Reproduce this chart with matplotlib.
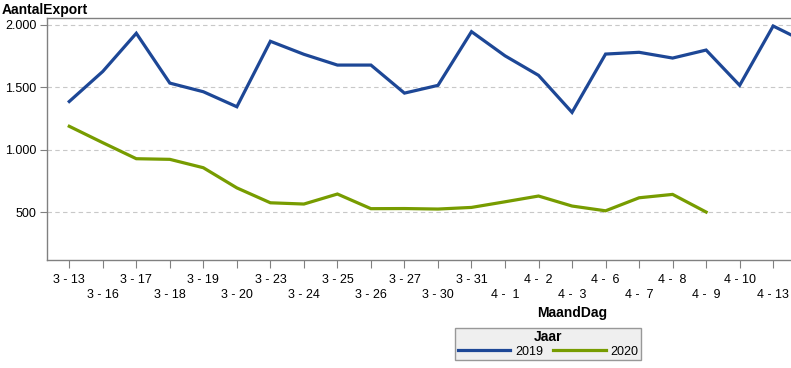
import numpy as np
import matplotlib.pyplot as plt
from matplotlib.lines import Line2D

plt.rcParams['font.family'] = ['Liberation Sans', 'DejaVu Sans']

# Daily export counts per month-day, two years
dagen = ["3 - 13", "3 - 16", "3 - 17", "3 - 18", "3 - 19", "3 - 20", "3 - 23",
         "3 - 24", "3 - 25", "3 - 26", "3 - 27", "3 - 30", "3 - 31", "4 -  1",
         "4 -  2", "4 -  3", "4 -  6", "4 -  7", "4 -  8", "4 -  9", "4 - 10",
         "4 - 13", "4 - 14"]
export_2019 = [1385, 1625, 1930, 1532, 1463, 1343, 1866, 1762, 1676, 1676, 1452,
               1514, 1943, 1750, 1594, 1298, 1764, 1778, 1732, 1796, 1514, 1988, 1855]
export_2020 = [1187, 1056, 928, 923, 856, 695, 576, 566, 646, 529, 530,
               526, 539, 584, 630, 550, 512, 616, 643, 502]

blauw = "#1d4796"
groen = "#779c00"
grijs = "#808080"

fig = plt.figure(figsize=(7.91, 3.68), dpi=100)
# axes run on past the right edge of the picture, like the original
ax = fig.add_axes([47.3 / 791, 108 / 368, 1050 / 791, 242 / 368])

x = np.arange(len(dagen))
ax.plot(x, export_2019, color=blauw, lw=2.3, solid_joinstyle="miter", zorder=3)
ax.plot(x[:len(export_2020)], export_2020, color=groen, lw=2.3, solid_joinstyle="miter", zorder=3)

ax.set_xlim(-0.655, -0.655 + 1050 / 33.52)
ax.set_ylim(119, 2052)

ax.set_yticks([500, 1000, 1500, 2000])
ax.set_yticklabels(["500", "1.000", "1.500", "2.000"], fontsize=9)
ax.grid(axis="y", color="#c8c8c8", ls=(0, (4, 3)), lw=0.8)
ax.set_axisbelow(True)

# last day lies past the picture edge, its label is not shown there
labels = [d if i % 2 == 0 else "\n" + d for i, d in enumerate(dagen)]
labels[-1] = ""
ax.set_xticks(x)
ax.set_xticklabels(labels, fontsize=9, linespacing=1.35)
ax.tick_params(axis="x", length=6, color=grijs, pad=4)
ax.tick_params(axis="y", length=5, color=grijs, pad=3)

for s in ["left", "bottom", "top"]:
    ax.spines[s].set_color(grijs)
    ax.spines[s].set_linewidth(1.0)
ax.spines["right"].set_visible(False)

fig.text(2 / 791, 1 - 10 / 368, "AantalExport", fontsize=10, fontweight="bold",
         ha="left", va="center")
fig.text(572.5 / 791, 1 - 312.5 / 368, "MaandDag", fontsize=10, fontweight="bold",
         ha="center", va="center")

handles = [Line2D([], [], color=blauw, lw=2.3), Line2D([], [], color=groen, lw=2.3)]
leg = fig.legend(handles, ["2019", "2020"], ncol=2, title="Jaar",
                 loc="center", bbox_to_anchor=(548 / 791, 1 - 344 / 368),
                 fontsize=9, title_fontproperties={"weight": "bold", "size": 10},
                 frameon=True, fancybox=False, handlelength=4.2, handletextpad=0.4,
                 columnspacing=0.8, borderpad=0.2, labelspacing=0.1,
                 borderaxespad=0)
leg.get_frame().set_facecolor("#ececec")
leg.get_frame().set_edgecolor(grijs)
leg.get_frame().set_linewidth(1.0)

fig.savefig("out.png", dpi=100)
